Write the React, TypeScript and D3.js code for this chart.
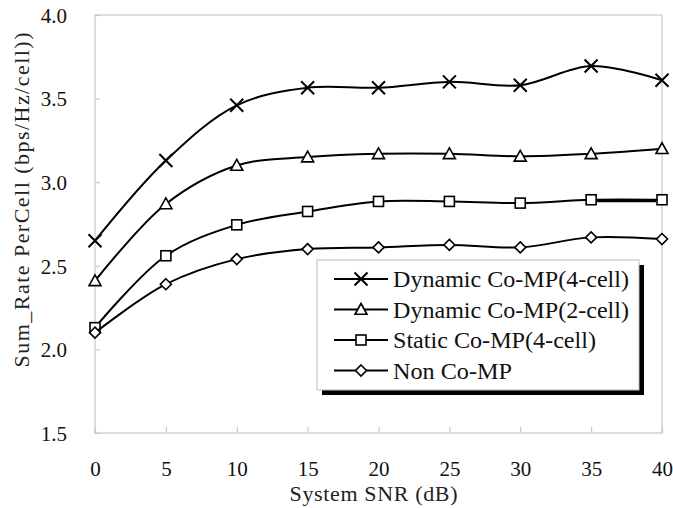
import React, { useRef, useEffect } from 'react';
import * as d3 from 'd3';

const snr = [0, 5, 10, 15, 20, 25, 30, 35, 40];
const dyn4 = [2.65, 3.13, 3.46, 3.565, 3.565, 3.60, 3.58, 3.695, 3.61];
const dyn2 = [2.41, 2.87, 3.10, 3.15, 3.17, 3.17, 3.155, 3.17, 3.20];
const static4 = [2.13, 2.56, 2.745, 2.825, 2.885, 2.885, 2.875, 2.895, 2.895];
const nonComp = [2.10, 2.39, 2.54, 2.60, 2.61, 2.625, 2.61, 2.67, 2.66];
const yTicks = [1.5, 2.0, 2.5, 3.0, 3.5, 4.0];
const seriesNames = ['Dynamic Co-MP(4-cell)', 'Dynamic Co-MP(2-cell)', 'Static Co-MP(4-cell)', 'Non Co-MP'];
const markers = ['cross', 'triangle', 'square', 'diamond'];

const W = 673;
const H = 508;
const FONT = '"Liberation Serif", "Times New Roman", serif';

function drawMarker(g: d3.Selection<SVGGElement, unknown, null, undefined>, type: string, cx: number, cy: number) {
  if (type === 'cross') {
    const s = 6.5;
    g.append('path')
      .attr('d', `M${cx - s},${cy - s}L${cx + s},${cy + s}M${cx - s},${cy + s}L${cx + s},${cy - s}`)
      .attr('stroke', '#000').attr('stroke-width', 2).attr('fill', 'none');
  } else if (type === 'triangle') {
    const s = 6;
    g.append('path')
      .attr('d', `M${cx},${cy - s}L${cx + s},${cy + s * 0.8}L${cx - s},${cy + s * 0.8}Z`)
      .attr('stroke', '#000').attr('stroke-width', 1.6).attr('fill', '#fff');
  } else if (type === 'square') {
    const s = 5;
    g.append('rect')
      .attr('x', cx - s).attr('y', cy - s).attr('width', 2 * s).attr('height', 2 * s)
      .attr('stroke', '#000').attr('stroke-width', 1.6).attr('fill', '#fff');
  } else {
    const s = 5.5;
    g.append('path')
      .attr('d', `M${cx},${cy - s}L${cx + s},${cy}L${cx},${cy + s}L${cx - s},${cy}Z`)
      .attr('stroke', '#000').attr('stroke-width', 1.6).attr('fill', '#fff');
  }
}

const App: React.FC = () => {
  const ref = useRef<SVGSVGElement | null>(null);

  useEffect(() => {
    if (!ref.current) return;
    const svg = d3.select(ref.current);
    svg.selectAll('*').remove();

    const margin = { top: 15, right: 11, bottom: 75, left: 95 };
    const x = d3.scaleLinear().domain([0, 40]).range([margin.left, W - margin.right]);
    const y = d3.scaleLinear().domain([1.5, 4.0]).range([H - margin.bottom, margin.top]);

    svg.append('rect').attr('width', W).attr('height', H).attr('fill', '#fff');

    // plot frame
    svg.append('rect')
      .attr('x', margin.left).attr('y', margin.top)
      .attr('width', W - margin.right - margin.left)
      .attr('height', H - margin.bottom - margin.top)
      .attr('fill', 'none').attr('stroke', '#c8c8c8').attr('stroke-width', 1.2);

    // axes
    const xAxis = svg.append('g')
      .attr('transform', `translate(0,${H - margin.bottom})`)
      .call(d3.axisBottom(x).tickValues(snr).tickSize(-6).tickPadding(28).tickFormat(d3.format('d')));
    const yAxis = svg.append('g')
      .attr('transform', `translate(${margin.left},0)`)
      .call(d3.axisLeft(y).tickValues(yTicks).tickSize(-5).tickPadding(28).tickFormat(d3.format('.1f')));
    [xAxis, yAxis].forEach(a => {
      a.select('.domain').remove();
      a.selectAll('line').attr('stroke', '#c8c8c8').attr('stroke-width', 1.2);
      a.selectAll('text').attr('font-family', FONT).attr('font-size', 21).attr('fill', '#111');
    });
    yAxis.selectAll('text').attr('dy', '0.35em');

    // axis titles
    svg.append('text')
      .attr('x', (margin.left + W - margin.right) / 2 - 5).attr('y', 501)
      .attr('text-anchor', 'middle').attr('font-family', FONT).attr('font-size', 22).attr('fill', '#222')
      .attr('textLength', 168)
      .text('System SNR (dB)');
    svg.append('text')
      .attr('transform', `translate(29,${200}) rotate(-90)`)
      .attr('text-anchor', 'middle').attr('font-family', FONT).attr('font-size', 22).attr('fill', '#222')
      .attr('textLength', 335)
      .text('Sum_Rate PerCell (bps/Hz/cell))');

    const all = [dyn4, dyn2, static4, nonComp];
    const line = d3.line<number>()
      .x((_, i) => x(snr[i]))
      .y(d => y(d))
      .curve(d3.curveCatmullRom.alpha(0.5));

    all.forEach((vals, si) => {
      const g = svg.append('g');
      g.append('path').datum(vals)
        .attr('d', line).attr('fill', 'none').attr('stroke', '#000').attr('stroke-width', 2);
      if (si === 2) {
        // heavier segment between the last two points
        g.append('line')
          .attr('x1', x(snr[7]) + 6).attr('x2', x(snr[8]) - 6)
          .attr('y1', y(vals[7]) + 1).attr('y2', y(vals[8]) + 1)
          .attr('stroke', '#000').attr('stroke-width', 3);
      }
      vals.forEach((v, i) => drawMarker(g, markers[si], x(snr[i]), y(v)));
    });

    // legend
    const legendWidths = [236, 236, 203, 119];
    const lx = 317, ly = 260, lw = 322, lh = 130;
    svg.append('rect').attr('x', lx + 5).attr('y', ly + 5).attr('width', lw).attr('height', lh).attr('fill', '#000');
    svg.append('rect').attr('x', lx).attr('y', ly).attr('width', lw).attr('height', lh)
      .attr('fill', '#fff').attr('stroke', '#bbb').attr('stroke-width', 1);
    seriesNames.forEach((name, i) => {
      const cy = 279 + i * 30.5;
      const g = svg.append('g');
      g.append('line').attr('x1', 334).attr('x2', 388).attr('y1', cy).attr('y2', cy)
        .attr('stroke', '#000').attr('stroke-width', 2);
      drawMarker(g, markers[i], 361, cy);
      g.append('text').attr('x', 393).attr('y', cy).attr('dy', '0.35em')
        .attr('font-family', FONT).attr('font-size', 24).attr('fill', '#111')
        .attr('textLength', legendWidths[i]).attr('lengthAdjust', 'spacingAndGlyphs')
        .text(name);
    });
  }, []);

  return <svg ref={ref} width={W} height={H} style={{ position: 'absolute', left: 0, top: 0 }}></svg>;
};

export default App;
